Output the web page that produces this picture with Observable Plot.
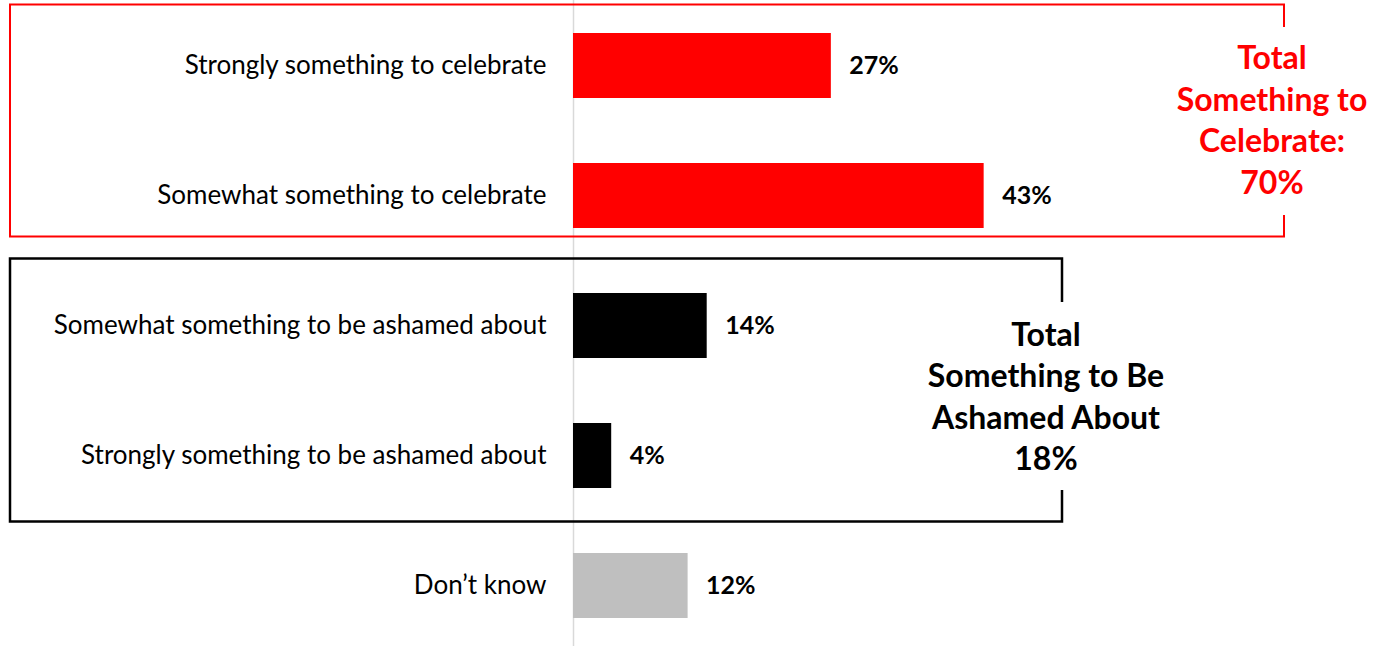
<!DOCTYPE html>
<html>
<head>
<meta charset="utf-8">
<script src="https://cdn.jsdelivr.net/npm/d3@7"></script>
<script src="https://cdn.jsdelivr.net/npm/@observablehq/plot@0.6"></script>
<style>
  body { margin: 0; background: #fff; }
  #chart svg { font-family: Lato, "Open Sans", sans-serif; }
</style>
</head>
<body>
<div id="chart"></div>
<script>
// Survey responses, top to bottom
const categories = [
  "Strongly something to celebrate",
  "Somewhat something to celebrate",
  "Somewhat something to be ashamed about",
  "Strongly something to be ashamed about",
  "Don\u2019t know"
];
const values = [27, 43, 14, 4, 12];
const groups = ["celebrate", "celebrate", "ashamed", "ashamed", "unsure"];

// Net totals for the two bracketed groups
const totalGroups = ["celebrate", "ashamed"];
const totalLines = [
  ["Total", "Something to", "Celebrate:", "70%"],
  ["Total", "Something to Be", "Ashamed About", "18%"]
];
const totalValues = [70, 18];

const groupColor = { celebrate: "#ff0000", ashamed: "#000000", unsure: "#bfbfbf" };

const rows = categories.map((c, i) => ({ category: c, value: values[i], group: groups[i] }));
const totals = totalGroups.map((g, i) => ({ group: g, lines: totalLines[i], value: totalValues[i] }));

const W = 1374, H = 646;

// Bracket geometry for each group box, in pixels relative to the row slots
const boxLayout = {
  celebrate: { left: 10, right: 1284, insetTop: 4,  insetBottom: -24, gapTop: 27,  gapBottom: 215, width: 2,   labelDx: -12, labelDy: 0 },
  ashamed:   { left: 10, right: 1062, insetTop: -2, insetBottom: 1,   gapTop: 302, gapBottom: 490, width: 2.5, labelDx: -16, labelDy: 7 }
};

// Custom mark: open-sided group boxes with their total labels
function brackets(index, scales) {
  const g = d3.create("svg:g");
  const y = scales.y;
  const bw = y.bandwidth();
  const step = y.step();
  const pad = (step - bw) / 2;
  for (const t of totals) {
    const members = rows.filter(r => r.group === t.group).map(r => y(r.category));
    const L = boxLayout[t.group];
    const boxTop = d3.min(members) - pad + L.insetTop;
    const boxBottom = d3.max(members) + bw + pad + L.insetBottom;
    const color = groupColor[t.group];
    g.append("path")
      .attr("fill", "none")
      .attr("stroke", color)
      .attr("stroke-width", L.width)
      .attr("d", `M${L.right},${L.gapTop}V${boxTop}H${L.left}V${boxBottom}H${L.right}V${L.gapBottom}`);
    const mid = (boxTop + boxBottom) / 2 + L.labelDy;
    const lh = 41.5;
    const text = g.append("text")
      .attr("fill", color)
      .attr("font-weight", "bold")
      .attr("font-size", 32)
      .attr("text-anchor", "middle");
    t.lines.forEach((line, i) => {
      text.append("tspan")
        .attr("x", L.right + L.labelDx)
        .attr("y", mid + (i - (t.lines.length - 1) / 2) * lh)
        .attr("dy", "0.35em")
        .text(line);
    });
  }
  return g.node();
}

const chart = Plot.plot({
  width: W,
  height: H,
  margin: 0,
  x: { domain: [0, 100], range: [573, 573 + 955], axis: null },
  y: { domain: categories, range: [0, 650], paddingInner: 0.5, paddingOuter: 0.25, axis: null },
  marks: [
    Plot.ruleX([0], { stroke: "#d9d9d9", strokeWidth: 1.5 }),
    Plot.barX(rows, { x: "value", y: "category", fill: d => groupColor[d.group] }),
    Plot.text(rows, {
      x: 0, y: "category", text: "category", textAnchor: "end", dx: -27,
      fontSize: 26, fill: "#000"
    }),
    Plot.text(rows, {
      x: "value", y: "category", text: d => d.value + "%", textAnchor: "start", dx: 18,
      fontSize: 25, fontWeight: "bold", fill: "#000"
    }),
    brackets
  ]
});

document.getElementById("chart").append(chart);
</script>
</body>
</html>
